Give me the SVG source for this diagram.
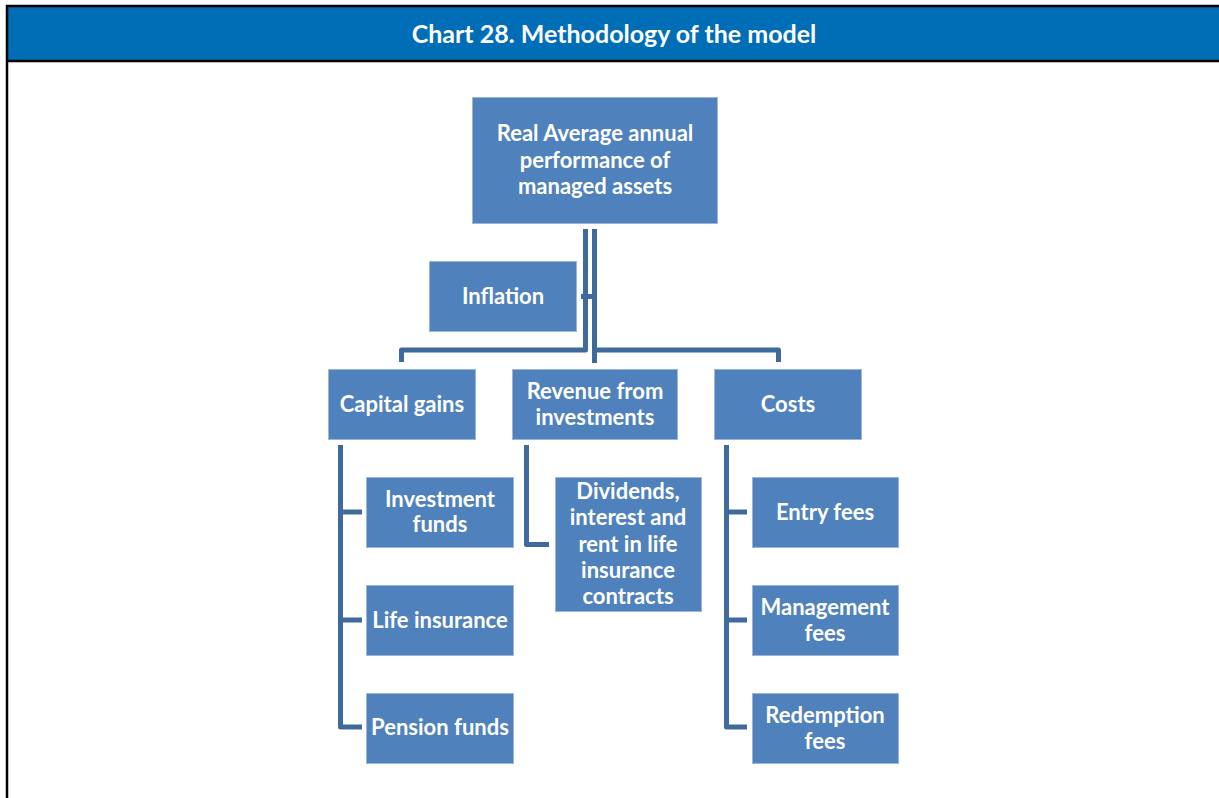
<svg xmlns="http://www.w3.org/2000/svg" width="1219" height="798" viewBox="0 0 1219 798">
<style>
.node rect{fill:#4F81BD;stroke:#9CB6D9;stroke-width:1}
.node text{fill:#fff;font-family:Lato,"Liberation Sans",sans-serif;font-weight:bold;font-size:22px;text-anchor:middle}
.conn path{fill:none;stroke:#3F6A9E;stroke-width:5;stroke-linejoin:round}
.title{fill:#fff;font-family:Lato,"Liberation Sans",sans-serif;font-weight:bold;font-size:25px;text-anchor:middle}
</style>
<rect x="0" y="0" width="1219" height="798" fill="#fff"/>
<rect x="7" y="6" width="1213" height="55" fill="#006EB6"/>
<line x1="6" y1="6" x2="1219" y2="6" stroke="#000" stroke-width="2.5"/>
<line x1="6" y1="61" x2="1219" y2="61" stroke="#000" stroke-width="2.5"/>
<line x1="7" y1="5" x2="7" y2="798" stroke="#000" stroke-width="2.5"/>
<text class="title" x="614" y="43">Chart 28. Methodology of the model</text>

<g class="conn">
<path d="M585.5,229 V350 H401.5 V362"/>
<path d="M594.5,229 V363"/>
<path d="M594.5,350 H778.5 V362"/>
<path d="M581,296.5 H595"/>
<path d="M340.5,445 V727 H362"/>
<path d="M340.5,512 H362"/>
<path d="M340.5,620 H362"/>
<path d="M526.5,445 V544.5 H549"/>
<path d="M726.5,445 V727 H747"/>
<path d="M726.5,512 H747"/>
<path d="M726.5,620 H747"/>
</g>

<g class="node" id="n-top"><rect x="472.5" y="97.5" width="245" height="126"/>
<text x="595" y="141">Real Average annual</text><text x="595" y="168">performance of</text><text x="595" y="194">managed assets</text></g>
<g class="node" id="n-inflation"><rect x="429.5" y="261.5" width="147" height="70"/>
<text x="503" y="304">Inflation</text></g>
<g class="node" id="n-capital"><rect x="328.5" y="369.5" width="147" height="70"/>
<text x="402" y="412">Capital gains</text></g>
<g class="node" id="n-revenue"><rect x="512.5" y="369.5" width="165" height="70"/>
<text x="595" y="399">Revenue from</text><text x="595" y="425">investments</text></g>
<g class="node" id="n-costs"><rect x="714.5" y="369.5" width="147" height="70"/>
<text x="788" y="412">Costs</text></g>
<g class="node" id="n-invfunds"><rect x="366.5" y="477.5" width="147" height="70"/>
<text x="440" y="507">Investment</text><text x="440" y="532">funds</text></g>
<g class="node" id="n-life"><rect x="366.5" y="585.5" width="147" height="70"/>
<text x="440" y="628">Life insurance</text></g>
<g class="node" id="n-pension"><rect x="366.5" y="693.5" width="147" height="70"/>
<text x="440" y="735">Pension funds</text></g>
<g class="node" id="n-dividends"><rect x="555.5" y="477.5" width="146" height="134"/>
<text x="628" y="499">Dividends,</text><text x="628" y="525">interest and</text><text x="628" y="552">rent in life</text><text x="628" y="578">insurance</text><text x="628" y="604">contracts</text></g>
<g class="node" id="n-entry"><rect x="752.5" y="477.5" width="146" height="70"/>
<text x="825" y="520">Entry fees</text></g>
<g class="node" id="n-mgmt"><rect x="752.5" y="585.5" width="146" height="70"/>
<text x="825" y="615">Management</text><text x="825" y="641">fees</text></g>
<g class="node" id="n-redemption"><rect x="752.5" y="693.5" width="146" height="70"/>
<text x="825" y="723">Redemption</text><text x="825" y="749">fees</text></g>
</svg>
